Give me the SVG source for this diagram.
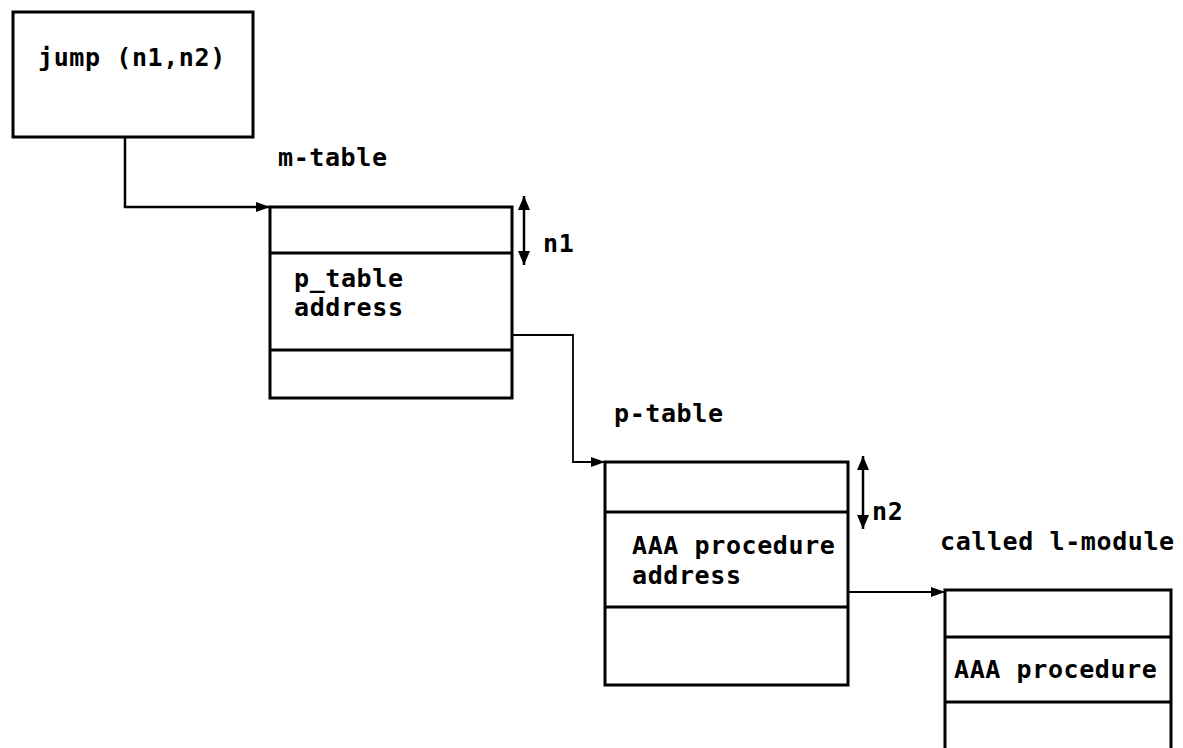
<svg xmlns="http://www.w3.org/2000/svg" width="1183" height="748" viewBox="0 0 1183 748">
  <style>
    .box { fill: none; stroke: #000; stroke-width: 3; }
    .div { stroke: #000; stroke-width: 3; }
    .wire { fill: none; stroke: #000; stroke-width: 2.5; }
    .thin { fill: none; stroke: #000; stroke-width: 1.8; }
    text { font-family: "DejaVu Sans Mono", "Liberation Mono", monospace; font-size: 25px; font-weight: bold; fill: #000; letter-spacing: 0.6px; }
  </style>
  <defs>
    <marker id="arrow" viewBox="0 0 14 10" refX="14" refY="5" markerWidth="14" markerHeight="10" markerUnits="userSpaceOnUse" orient="auto">
      <path d="M0,0 L14,5 L0,10 Z" fill="#000"/>
    </marker>
    <marker id="dimEnd" viewBox="0 0 14 12" refX="14" refY="6" markerWidth="14" markerHeight="12" markerUnits="userSpaceOnUse" orient="auto">
      <path d="M0,0 L14,6 L0,12 Z" fill="#000"/>
    </marker>
    <marker id="dimStart" viewBox="0 0 14 12" refX="0" refY="6" markerWidth="14" markerHeight="12" markerUnits="userSpaceOnUse" orient="auto">
      <path d="M14,0 L0,6 L14,12 Z" fill="#000"/>
    </marker>
  </defs>

  <!-- caller -->
  <g id="jump">
    <rect class="box" x="13" y="12" width="240" height="125"/>
    <text x="38" y="66">jump (n1,n2)</text>
  </g>

  <!-- m-table -->
  <g id="m-table">
    <text x="278" y="166">m-table</text>
    <rect class="box" x="270" y="207" width="242" height="191"/>
    <line class="div" x1="270" y1="253" x2="512" y2="253"/>
    <line class="div" x1="270" y1="350" x2="512" y2="350"/>
    <text x="294" y="287">p_table</text>
    <text x="294" y="316">address</text>
  </g>

  <!-- p-table -->
  <g id="p-table">
    <text x="614" y="422">p-table</text>
    <rect class="box" x="605" y="462" width="243" height="223"/>
    <line class="div" x1="605" y1="512" x2="848" y2="512"/>
    <line class="div" x1="605" y1="607" x2="848" y2="607"/>
    <text x="632" y="554">AAA procedure</text>
    <text x="632" y="584">address</text>
  </g>

  <!-- called l-module -->
  <g id="l-module">
    <text x="940" y="550">called l-module</text>
    <path class="box" d="M945,760 L945,590 L1171,590 L1171,760"/>
    <line class="div" x1="945" y1="637" x2="1171" y2="637"/>
    <line class="div" x1="945" y1="702" x2="1171" y2="702"/>
    <text x="954" y="678">AAA procedure</text>
  </g>

  <!-- offsets -->
  <g id="offsets">
    <line class="wire" x1="524" y1="196" x2="524" y2="265" marker-start="url(#dimStart)" marker-end="url(#dimEnd)"/>
    <text x="543" y="252">n1</text>
    <line class="wire" x1="863" y1="456" x2="863" y2="529" marker-start="url(#dimStart)" marker-end="url(#dimEnd)"/>
    <text x="872" y="520">n2</text>
  </g>

  <!-- connectors -->
  <g id="connectors">
    <path class="wire" d="M125,137 L125,207 L270,207" marker-end="url(#arrow)"/>
    <path class="thin" d="M512,335 L573,335 L573,462 L605,462" marker-end="url(#arrow)"/>
    <path class="thin" d="M848,592 L945,592" marker-end="url(#arrow)"/>
  </g>
</svg>
